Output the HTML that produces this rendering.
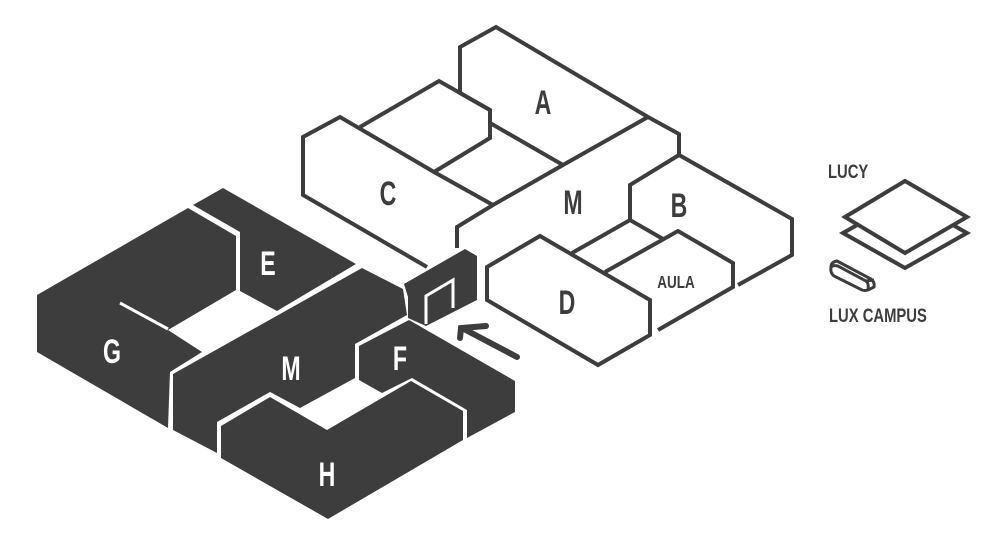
<!DOCTYPE html>
<html><head><meta charset="utf-8"><style>
html,body{margin:0;padding:0;background:#fff;}
svg{display:block;}
.l{font-family:"Liberation Sans",sans-serif;font-weight:bold;}
</style></head><body>
<svg width="1000" height="557" viewBox="0 0 1000 557" xmlns="http://www.w3.org/2000/svg">
<g fill="none" stroke="#3d3d3d" stroke-width="4" stroke-linejoin="miter" stroke-linecap="butt">
<polyline points="460,93 460,47 496,27 648,117 679,134 679,155"/>
<line x1="460" y1="93" x2="490" y2="110"/>
<polyline points="360,127 439,81 490,110 490,138 434,172"/>
<line x1="490" y1="123" x2="563" y2="165"/>
<polyline points="427,267 303,195 303,137 340,117 434,172 493,205"/>
<polyline points="648,117 563,165 493,205 457,227 457,248"/>
<polyline points="630,220 630,185 679,155 792,219 792,255 738,285"/>
<polyline points="572,253 630,220 663,239"/>
<polyline points="605,272 678,231 733,263 733,287 658,330"/>
<polygon points="487,267 540,236 650,300 650,335 598,365 487,300" fill="#fff"/>
<polygon points="843,233 905,198 967,233 905,268" fill="#fff"/>
<polygon points="845,217 905,181 967,217 905,253" fill="#fff"/>
<path d="M831,267 Q831,262 837,261 L871,279 Q875,282 874,287 L868,290 Q865,291 862,290 L834,276 Q830,273 831,267 Z" fill="#fff" stroke-width="3"/>
<path d="M831,267 Q833,265 838,266 L866,281 Q869,283 868,290 M866,281 L874,280" stroke-width="3"/>
</g>
<g fill="#3d3d3d">
<polygon points="37,295 188,208 236,236 236,290 168,330 202,352 170,372 168,428 37,352"/>
<polygon points="193,205 223,188 356,264 277,311 240,291 240,232"/>
<polygon points="173,374 362,268 403,289 407,315 355,344 355,378 300,408 270,392 217,422 217,453 173,430"/>
<polygon points="409,320 515,381 515,412 467,438 467,410 412,378 382,393 359,380 359,346"/>
<polygon points="221,426 270,397 327,430 411,381 463,411 463,440 328,519 221,458"/>
<polygon points="404,284 465,249 477,256 477,300 426,326 408,318 408,297"/>
</g>
<g fill="none" stroke="#fff" stroke-width="3">
<line x1="120" y1="303" x2="168" y2="329"/>
<polyline points="426,324 426,296 453,280 453,308"/>
</g>
<g stroke="#3d3d3d" stroke-width="6" stroke-linecap="round" fill="none">
<line x1="517" y1="357" x2="462" y2="328"/>
<polyline points="486,326 461,328 460,338"/>
</g>
<g class="l" fill="#3d3d3d" text-anchor="middle" font-size="34">
<text x="543" y="114" transform="translate(543 0) scale(0.68 1) translate(-543 0)">A</text>
<text x="388" y="205" transform="translate(388 0) scale(0.68 1) translate(-388 0)">C</text>
<text x="573" y="214" transform="translate(573 0) scale(0.68 1) translate(-573 0)">M</text>
<text x="679" y="217" transform="translate(679 0) scale(0.68 1) translate(-679 0)">B</text>
<text x="567" y="314" transform="translate(567 0) scale(0.68 1) translate(-567 0)">D</text>
</g>
<text class="l" x="676" y="288" font-size="18" fill="#3d3d3d" text-anchor="middle" transform="translate(676 0) scale(0.75 1) translate(-676 0)">AULA</text>
<g class="l" fill="#fff" text-anchor="middle" font-size="34">
<text x="268" y="275" transform="translate(268 0) scale(0.68 1) translate(-268 0)">E</text>
<text x="112" y="363" transform="translate(112 0) scale(0.68 1) translate(-112 0)">G</text>
<text x="291" y="380" transform="translate(291 0) scale(0.68 1) translate(-291 0)">M</text>
<text x="400" y="370" transform="translate(400 0) scale(0.68 1) translate(-400 0)">F</text>
<text x="327" y="486" transform="translate(327 0) scale(0.68 1) translate(-327 0)">H</text>
</g>
<g class="l" fill="#3d3d3d" font-size="19">
<text x="828" y="178" transform="translate(828 0) scale(0.78 1) translate(-828 0)">LUCY</text>
<text x="829" y="322" transform="translate(829 0) scale(0.78 1) translate(-829 0)">LUX CAMPUS</text>
</g>
</svg>
</body></html>
